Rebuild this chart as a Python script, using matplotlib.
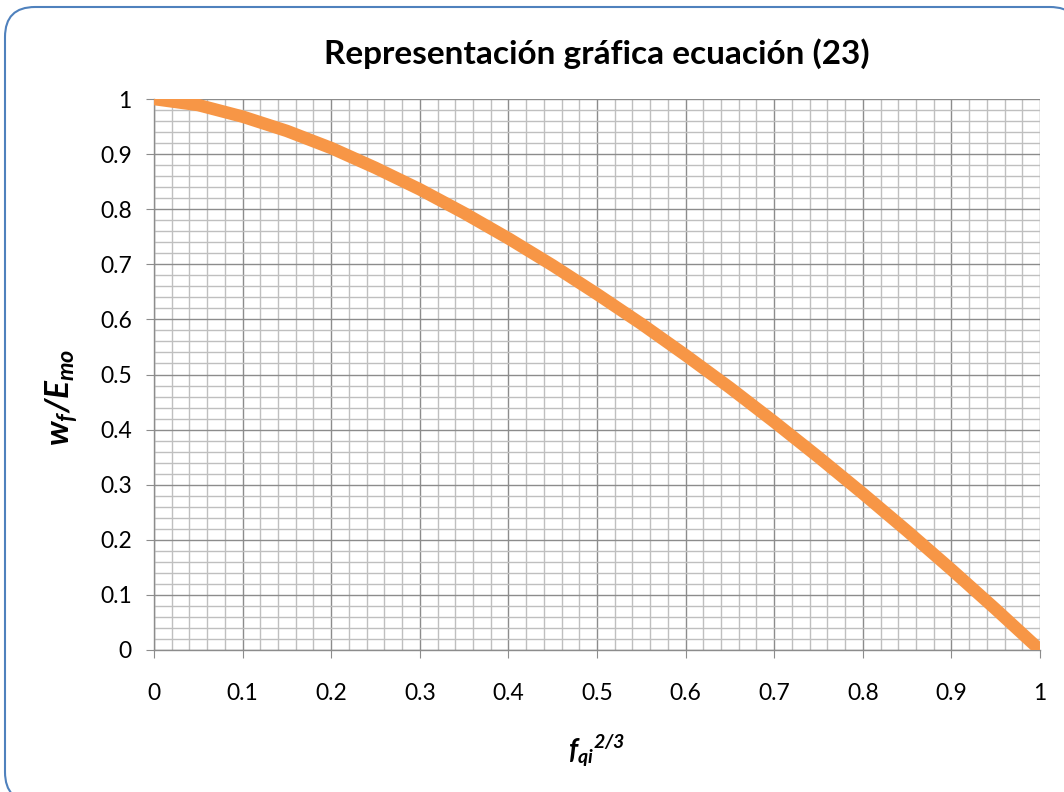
import matplotlib
matplotlib.use("Agg")
import matplotlib.pyplot as plt
from matplotlib.patches import FancyBboxPatch
from matplotlib.ticker import MultipleLocator

plt.rcParams['font.family'] = ['Lato', 'DejaVu Sans']
plt.rcParams['mathtext.fontset'] = 'custom'
plt.rcParams['mathtext.it'] = 'Lato:italic:bold'
plt.rcParams['mathtext.rm'] = 'Lato:italic:bold'
plt.rcParams['mathtext.bf'] = 'Lato:italic:bold'

# Values
f_qi = [0.0, 0.05, 0.1, 0.15, 0.2, 0.25, 0.3, 0.35, 0.4, 0.45, 0.5,
        0.55, 0.6, 0.65, 0.7, 0.75, 0.8, 0.85, 0.9, 0.95, 1.0]
w_ratio = [1.0, 0.989, 0.968, 0.942, 0.911, 0.875, 0.836, 0.793, 0.747, 0.698, 0.646,
           0.592, 0.535, 0.476, 0.414, 0.350, 0.284, 0.216, 0.146, 0.074, 0.0]
tick_vals = [0, 0.1, 0.2, 0.3, 0.4, 0.5, 0.6, 0.7, 0.8, 0.9, 1]
tick_labels = ["0", "0.1", "0.2", "0.3", "0.4", "0.5", "0.6", "0.7", "0.8", "0.9", "1"]

fig = plt.figure(figsize=(10.64, 7.92), dpi=100)
W, H = 1064.0, 792.0

# Rounded chart border in inches (runs off the right and bottom edges)
border = FancyBboxPatch((0.05, -0.10), 10.75, 7.95,
                        boxstyle="round,pad=0,rounding_size=0.30",
                        transform=fig.dpi_scale_trans, facecolor='white',
                        edgecolor='#4F81BD', linewidth=1.5, zorder=-5)
fig.patches.append(border)

ax = fig.add_axes([154 / W, 1 - 650 / H, (1040 - 154) / W, (650 - 99) / H])
ax.set_facecolor('none')
ax.set_zorder(2)

ax.plot(f_qi, w_ratio, color='#F79646', linewidth=9, solid_capstyle='butt', zorder=3)

ax.set_xlim(0, 1)
ax.set_ylim(0, 1)
ax.set_xticks(tick_vals)
ax.set_xticklabels(tick_labels)
ax.set_yticks(tick_vals)
ax.set_yticklabels(tick_labels)
ax.xaxis.set_minor_locator(MultipleLocator(0.02))
ax.yaxis.set_minor_locator(MultipleLocator(0.02))

ax.grid(which='minor', color='#BFBFBF', linewidth=1.0, zorder=1)
ax.grid(which='major', color='#8C8C8C', linewidth=1.0, zorder=2)
ax.set_axisbelow(True)

for side in ['top', 'right']:
    ax.spines[side].set_visible(False)
for side in ['left', 'bottom']:
    ax.spines[side].set_color('#8C8C8C')
    ax.spines[side].set_linewidth(1.0)

ax.tick_params(axis='both', which='minor', length=0)
ax.tick_params(axis='y', which='major', length=6, color='#8C8C8C', pad=10, labelsize=16.5)
ax.tick_params(axis='x', which='major', length=6, color='#8C8C8C', pad=18, labelsize=16.5)

fig.text(597 / W, 1 - 54 / H, "Representación gráfica ecuación (23)",
         fontsize=24, fontweight='bold', ha='center', va='center')

ax.set_xlabel(r"$f_{qi}{}^{2/3}$", fontsize=20, va='top')
ax.xaxis.set_label_coords(597 / W, 1 - 733 / H, transform=fig.transFigure)
ax.set_ylabel(r"$w_f/E_{mo}$", fontsize=24)
ax.yaxis.set_label_coords(80 / W, 1 - 397 / H, transform=fig.transFigure)

fig.savefig("out.png", dpi=100)
